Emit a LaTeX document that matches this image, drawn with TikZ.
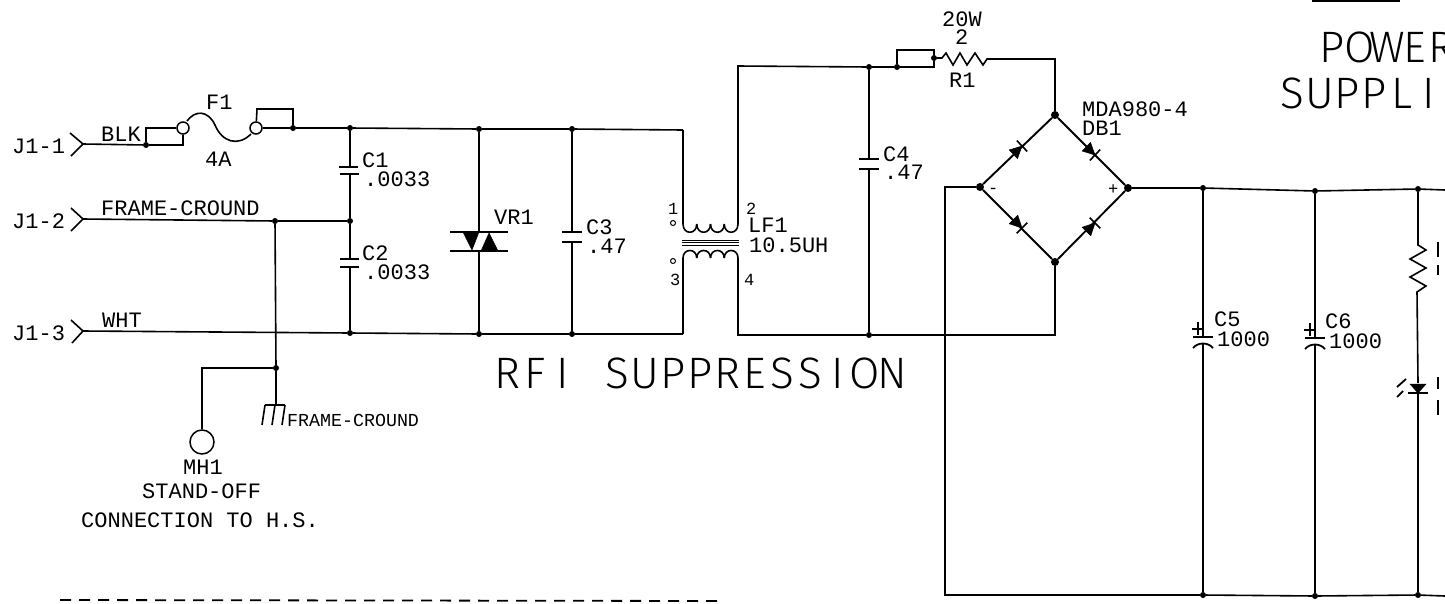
\documentclass[tikz,border=0pt]{standalone}
\usepackage{fontspec}
\setmainfont{Liberation Mono}
\newfontfamily\thinfont{Fira Sans Light}
\newcommand\pc[1]{\makebox[27.45pt]{#1}}
\tikzset{
  wire/.style={line width=1.6pt,black,line join=miter},
  plate/.style={line width=1.8pt,black},
  junction/.style={circle,fill=black,inner sep=0pt,minimum size=6pt},
  bigjunction/.style={circle,fill=black,inner sep=0pt,minimum size=8pt},
  ring/.style={circle,draw=black,fill=white,line width=1.5pt,inner sep=0pt,minimum size=12pt},
  solid tri/.style={fill=black,draw=black,line width=.5pt},
  lbl/.style={anchor=base west,inner sep=0pt,font=\fontsize{22}{22}\selectfont},
  smalllbl/.style={anchor=base west,inner sep=0pt,font=\fontsize{18.3}{18}\selectfont},
  tinylbl/.style={anchor=base west,inner sep=0pt,font=\fontsize{17}{17}\selectfont},
  biglbl/.style={anchor=base west,inner sep=0pt,font=\thinfont\fontsize{44}{44}\selectfont},
}
\begin{document}
\begin{tikzpicture}[x=1pt,y=-1pt]
\useasboundingbox (0,0) rectangle (1445,603);
\fill[white] (0,0) rectangle (1445,603);
\clip (0,0) rectangle (1445,603);

% ---------- junctions
\foreach \n/\x/\y in {j1a/146/145, jfb/293/128, jc1t/350/128, jvrt/479/129, jc3t/572/129,
  jc1m/350/221, jfg/275/221, jc1b/350/333, jvrb/479/334, jc3b/572/334,
  jgnd/276/368, jc4t/869/67, jrb/897/67, jrr/934/58, jc4b/869/335,
  jc5t/1203/188, jc6t/1315/191, jrt/1418/189,
  jc5b/1203/595, jc6b/1315/596, jrbb/1418/595}
  {\node[junction] (\n) at (\x,\y) {};}
\foreach \n/\x/\y in {dbt/1055/115, dbl/980/187, dbr/1128/188, dbb/1055/262}
  {\node[bigjunction] (\n) at (\x,\y) {};}

% ---------- free coordinates
\coordinate (e1) at (83,144);
\coordinate (e2) at (83,219);
\coordinate (e3) at (83,331);

% ---------- connector chevrons
\draw[wire] (70,133) -- (e1) -- (71,156);
\draw[wire] (71,208) -- (e2) -- (71,231);
\draw[wire] (71,320) -- (e3) -- (72,343);

% ---------- fuse
\node[ring] (fa) at (183,128) {};
\node[ring] (fb) at (256,128) {};
\draw[wire] (e1) -- (j1a) -- (183,145) -- (fa);
\draw[wire] (j1a) -- (146,128) -- (fa);
\draw[wire] (187,121) .. controls (195,110) and (208,110) .. (215,125)
  .. controls (222,142) and (238,147) .. (251,134);
\draw[wire] (fb) -- (jfb);
\draw[wire] (fb) -- (257,109) -- (293,109) -- (jfb);

% ---------- rails
\draw[wire] (jfb) -- (jc1t) -- (jvrt) -- (jc3t) -- (683,130) coordinate (lt);
\draw[wire] (e2) -- (jfg) -- (jc1m);
\draw[wire] (e3) -- (jc1b) -- (jvrb) -- (jc3b) -- (683,334) coordinate (lb);

% ---------- C1 and C2
\draw[wire] (jc1t) -- (350,167) coordinate (c1a);
\draw[plate] (339,167) -- (358,167);
\draw[plate] (340,174) -- (359,174);
\draw[wire] (350,174) -- (jc1m);
\draw[wire] (jc1m) -- (350,259);
\draw[plate] (340,259) -- (359,259);
\draw[plate] (340,267) -- (359,267);
\draw[wire] (350,267) -- (jc1b);

% ---------- frame ground and stand-off
\draw[wire] (jfg) -- (jgnd) -- (276,405);
\draw[wire] (265,405) -- (285,405);
\draw[wire] (265,405) -- (262,425);
\draw[wire] (275,405) -- (272,425);
\draw[wire] (285,405) -- (282,425);
\node[circle,draw=black,line width=1.5pt,inner sep=0pt,minimum size=24pt] (mh) at (202,442) {};
\draw[wire] (jgnd) -- (202,368) -- (mh);

% ---------- VR1
\draw[wire] (jvrt) -- (479,232);
\draw[wire] (479,251) -- (jvrb);
\draw[plate] (450,232) -- (508,232);
\draw[plate] (450,251) -- (508,251);
\draw[solid tri] (463,232) -- (479,232) -- (472,250) -- cycle;
\draw[solid tri] (481,251) -- (498,251) -- (489,233) -- cycle;

% ---------- C3
\draw[wire] (jc3t) -- (572,232);
\draw[plate] (562,232) -- (582,232);
\draw[plate] (562,242) -- (582,242);
\draw[wire] (572,242) -- (jc3b);

% ---------- LF1
\draw[wire] (lt) -- (683,224);
\foreach \x in {683,696.75,710.5,724.25}
  \draw[wire] (\x,224) .. controls (\x,235) and (\x+13.75,235) .. (\x+13.75,224);
\draw[wire] (lb) -- (683,258);
\foreach \x in {683,696.75,710.5,724.25}
  \draw[wire] (\x,258) .. controls (\x,248) and (\x+13.75,248) .. (\x+13.75,258);
\draw[line width=1pt] (682,240) -- (739,240);
\draw[line width=1pt] (682,242.5) -- (739,242.5);
\draw[line width=1pt] (682,245) -- (739,245);
\node[circle,draw=black,line width=1pt,inner sep=0pt,minimum size=5pt] (dot1) at (673,223) {};
\node[circle,draw=black,line width=1pt,inner sep=0pt,minimum size=5pt] (dot3) at (673,261) {};
\draw[wire] (738,224) -- (738,66) -- (jc4t);
\draw[wire] (738,258) -- (738,335) -- (jc4b);

% ---------- C4
\draw[wire] (jc4t) -- (869,159);
\draw[plate] (859,159) -- (879,159);
\draw[plate] (859,169) -- (879,169);
\draw[wire] (869,169) -- (jc4b);

% ---------- R1
\draw[wire] (jc4t) -- (jrb);
\draw[wire] (jrb) -- (934,67) -- (jrr);
\draw[wire] (jrb) -- (897,50) -- (934,50) -- (jrr);
\draw[wire] (jrr) -- (942,58) -- (946,53) -- (953,65) -- (960,53) -- (967,65) -- (975,53) -- (983,65) -- (987,59) -- (1055,59) -- (dbt);

% ---------- bridge
\draw[wire,line width=1.9pt] (dbt) -- (dbr) -- (dbb) -- (dbl) -- (dbt);
\foreach \cx/\cy/\dx/\dy in {1022/146/0.72/-0.69, 1095/155/0.72/0.69, 1022/228/0.71/0.71, 1095/223/0.71/-0.71}{
  \draw[solid tri] (\cx,\cy) -- (\cx-12*\dx+6*\dy,\cy-12*\dy-6*\dx) -- (\cx-12*\dx-6*\dy,\cy-12*\dy+6*\dx) -- cycle;
  \draw[wire] (\cx+7.5*\dy,\cy-7.5*\dx) -- (\cx-7.5*\dy,\cy+7.5*\dx);
}
\draw[wire] (dbb) -- (1055,335) -- (jc4b);
\draw[wire] (dbl) -- (945,187) -- (945,595) -- (jc5b) -- (jc6b) -- (jrbb) -- (1445,596);
\draw[wire] (dbr) -- (jc5t) -- (jc6t) -- (jrt) -- (1445,190);

% ---------- C5 and C6
\foreach \n/\m/\x/\y in {jc5t/jc5b/1203/0, jc6t/jc6b/1315/1}{
  \draw[wire] (\n) -- (\x,337+\y);
  \draw[plate] (\x-10,337+\y) -- (\x+10,337+\y);
  \draw[plate] (\x-10,348+\y) .. controls (\x-5,342+\y) and (\x+5,342+\y) .. (\x+10,348+\y);
  \draw[wire] (\x,343.5+\y) -- (\m);
  \draw[wire] (\x-11,329+\y) -- (\x+1,329+\y);
  \draw[wire] (\x-5,322+\y) -- (\x-5,335+\y);
}

% ---------- R and LED at right edge
\draw[wire] (jrt) -- (1418,245) -- (1426,250) -- (1410,259) -- (1426,268) -- (1410,277) -- (1426,286) -- (1417,292) -- (1418,383);
\draw[solid tri] (1410,384) -- (1426,384) -- (1418,393) -- cycle;
\draw[plate] (1408,393) -- (1428,393);
\draw[wire] (1418,393) -- (jrbb);
\draw[line width=1.8pt] (1397,387) -- (1406,379);
\draw[line width=1.8pt] (1397,397) -- (1403,391);

% cut-off letter stems at the right edge
\draw[line width=1.5pt] (1438,242) -- (1438,257);
\draw[line width=1.5pt] (1438,265) -- (1438,275);
\draw[line width=1.5pt] (1438,377) -- (1438,389);
\draw[line width=1.5pt] (1438,400) -- (1438,415);

% cut-off rule at the top edge
\draw[line width=2pt] (1312,0.5) -- (1400,0.5);

% dashed rule
\draw[line width=1.8pt,dash pattern=on 11pt off 8pt] (60,600) -- (718,601);

% ---------- labels
\node[lbl] (tj1) at (12,153) {J1-1};
\node[lbl] (tj2) at (12,228) {J1-2};
\node[lbl] (tj3) at (12,340) {J1-3};
\node[lbl] (tblk) at (101,141) {BLK};
\node[lbl] (tf1) at (206,109) {F1};
\node[lbl] (t4a) at (205,166) {4A};
\node[lbl] (tfg) at (101,215) {FRAME-CROUND};
\node[lbl] (twht) at (102,327) {WHT};
\node[lbl] (tc1) at (362,167) {C1};
\node[lbl] (tc1v) at (364,186) {.0033};
\node[lbl] (tc2) at (362,260) {C2};
\node[lbl] (tc2v) at (364,279) {.0033};
\node[lbl] (tvr) at (494,224) {VR1};
\node[lbl] (tc3) at (586,234) {C3};
\node[lbl] (tc3v) at (587,253) {.47};
\node[tinylbl] (tp1) at (668,214) {1};
\node[tinylbl] (tp2) at (746,214) {2};
\node[tinylbl] (tp3) at (670,285) {3};
\node[tinylbl] (tp4) at (744,285) {4};
\node[lbl] (tlf) at (748,232) {LF1};
\node[lbl] (tlfv) at (749,252) {10.5UH};
\node[lbl] (tc4) at (883,161) {C4};
\node[lbl] (tc4v) at (884,179) {.47};
\node[lbl] (t20) at (942,26) {20W};
\node[lbl] (t2) at (955,44) {2};
\node[lbl] (tr1) at (949,87) {R1};
\node[lbl] (tmda) at (1082,116) {MDA980-4};
\node[lbl] (tdb) at (1082,135) {DB1};
\node[tinylbl] at (988,193) {-};
\node[tinylbl] at (1108,194) {+};
\node[lbl] (tc5) at (1214,326) {C5};
\node[lbl] (tc5v) at (1217,346) {1000};
\node[lbl] (tc6) at (1325,328) {C6};
\node[lbl] (tc6v) at (1329,348) {1000};
\node[biglbl] (trfi) at (494,388) {\pc{R}\pc{F}\pc{I}\pc{ }\pc{S}\pc{U}\pc{P}\pc{P}\pc{R}\pc{E}\pc{S}\pc{S}\pc{I}\pc{O}\pc{N}};
\node[biglbl] (tpow) at (1318,62) {\pc{P}\pc{O}\pc{W}\pc{E}\pc{R}};
\node[biglbl] (tsup) at (1278,108) {\pc{S}\pc{U}\pc{P}\pc{P}\pc{L}\pc{I}};
\node[smalllbl] (tfg2) at (287,426) {FRAME-CROUND};
\node[lbl] (tmh) at (183,474) {MH1};
\node[lbl] (tso) at (142,498) {STAND-OFF};
\node[lbl] (tcon) at (81,527) {CONNECTION TO H.S.};
\end{tikzpicture}
\end{document}
